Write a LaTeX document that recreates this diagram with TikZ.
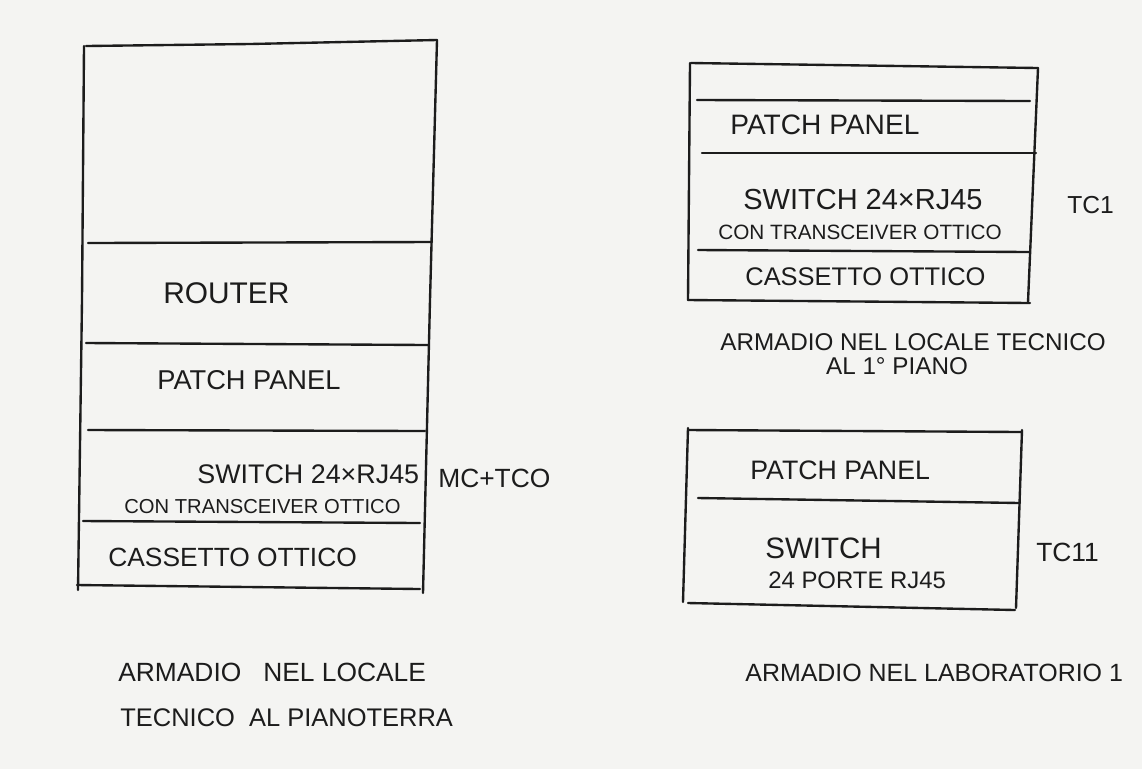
\documentclass[tikz,border=0pt]{standalone}
\usepackage{fontspec}
\setmainfont{Liberation Sans}
\newcommand{\fsz}[1]{\fontsize{#1}{#1}\selectfont}
\begin{document}
\begin{tikzpicture}[x=0.02cm,y=-0.02cm,
  pen/.style={draw=ink,line width=1.35pt,line cap=round,line join=round},
  lbl/.style={inner sep=0pt,anchor=west,text=ink}]
\definecolor{ink}{HTML}{1C1C1C}
\definecolor{paper}{HTML}{F4F4F2}
\fill[paper] (0,0) rectangle (1142,769);
\useasboundingbox (0,0) rectangle (1142,769);

% ---- left cabinet (ground floor)
\draw[pen] (86,46) -- (250,44) -- (437,40);
\draw[pen] (84,46) -- (82,300) -- (78,590);
\draw[pen] (437,40) -- (430,300) -- (423,593);
\draw[pen] (88,243) -- (432,242);
\draw[pen] (86,343) -- (428,345);
\draw[pen] (88,430) -- (425,431);
\draw[pen] (83,521) -- (420,523);
\draw[pen] (77,585) -- (420,589);

\node[lbl,font=\fsz{17}] (router) at (163,293) {ROUTER};
\node[lbl,font=\fsz{15.5}] (pp0) at (157,380) {PATCH PANEL};
\node[lbl,font=\fsz{15.3}] (sw0) at (197,474) {SWITCH 24×RJ45};
\node[lbl,font=\fsz{11.5}] (tr0) at (124,507) {CON TRANSCEIVER OTTICO};
\node[lbl,font=\fsz{15}] (co0) at (108,557) {CASSETTO OTTICO};
\node[lbl,font=\fsz{15}] (mc) at (438,478) {MC+TCO};
\node[lbl,font=\fsz{15}] (cap0a) at (118,672) {ARMADIO\ \ \ NEL LOCALE};
\node[lbl,font=\fsz{14.5}] (cap0b) at (120,718) {TECNICO\ \ AL PIANOTERRA};

% ---- right top cabinet (1st floor)
\draw[pen] (691,63) -- (1038,68);
\draw[pen] (690,63) -- (688,300);
\draw[pen] (1038,68) -- (1028,302);
\draw[pen] (697,100) -- (1030,101);
\draw[pen] (702,153) -- (1036,153);
\draw[pen] (698,250) -- (1029,252);
\draw[pen] (688,300) -- (1030,303);

\node[lbl,font=\fsz{16}] (pp1) at (730,125) {PATCH PANEL};
\node[lbl,font=\fsz{16.5}] (sw1) at (743,200) {SWITCH 24×RJ45};
\node[lbl,font=\fsz{11.8}] (tr1) at (718,232) {CON TRANSCEIVER OTTICO};
\node[lbl,font=\fsz{14.5}] (co1) at (745,277) {CASSETTO OTTICO};
\node[lbl,font=\fsz{14}] (tc1) at (1067,205) {TC1};
\node[lbl,font=\fsz{13.8}] (cap1a) at (720,342) {ARMADIO NEL LOCALE TECNICO};
\node[inner sep=0pt,text=ink,font=\fsz{13.8}] (cap1b) at (897,366) {AL 1° PIANO};

% ---- right bottom cabinet (laboratory)
\draw[pen] (688,430) -- (1022,432);
\draw[pen] (688,428) -- (683,602);
\draw[pen] (1022,430) -- (1016,608);
\draw[pen] (698,498) -- (1020,503);
\draw[pen] (688,603) -- (1015,610);

\node[lbl,font=\fsz{15.2}] (pp2) at (750,470) {PATCH PANEL};
\node[lbl,font=\fsz{16.8}] (sw2) at (765,548) {SWITCH};
\node[lbl,font=\fsz{13.6}] (pt2) at (768,580) {24 PORTE RJ45};
\node[lbl,font=\fsz{15}] (tc11) at (1036,552) {TC11};
\node[lbl,font=\fsz{14.2}] (cap2) at (745,673) {ARMADIO NEL LABORATORIO 1};
\end{tikzpicture}
\end{document}
